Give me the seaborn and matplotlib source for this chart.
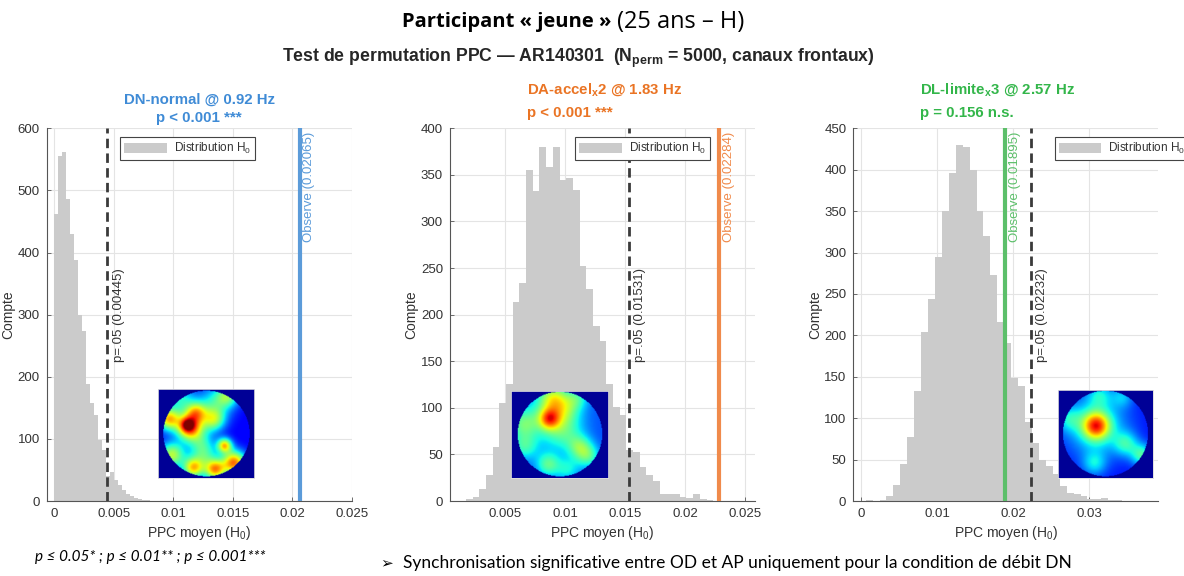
import numpy as np
import pandas as pd
import matplotlib
matplotlib.use("Agg")
import matplotlib.pyplot as plt
import matplotlib.transforms as mtransforms
from matplotlib.patches import Patch
from matplotlib.ticker import FuncFormatter, MultipleLocator
import seaborn as sns

# ------------------------------------------------------------------ data
cond_names = ["DN-normal", r"DA-accel$_\mathbf{x}$2", r"DL-limite$_\mathbf{x}$3"]
cond_freqs = ["0.92", "1.83", "2.57"]
p_texts = ["p < 0.001 ***", "p < 0.001 ***", "p = 0.156 n.s."]
observed = [0.02065, 0.02284, 0.01895]
thresholds = [0.00445, 0.01531, 0.02232]

bin_start = [0.0, 0.00175, 0.00062]
bin_width = [0.000335, 0.000556, 0.00091]

counts_dn = [462, 555, 562, 486, 430, 388, 300, 273, 188, 158, 138, 98, 82,
             40, 47, 34, 26, 18, 12, 8, 5, 3, 2, 1]
counts_da = [2, 4, 13, 28, 58, 105, 126, 214, 234, 355, 333, 380, 358, 380,
             345, 347, 334, 252, 228, 188, 172, 126, 101, 92, 55, 53, 36, 28,
             21, 8, 8, 7, 4, 3, 7, 2, 1]
counts_dl = [1, 0, 1, 6, 19, 45, 77, 133, 204, 244, 295, 350, 396, 430, 428,
             400, 350, 320, 273, 216, 191, 149, 139, 95, 70, 50, 42, 33, 18,
             10, 8, 6, 2, 3, 4, 1, 1]
all_counts = [counts_dn, counts_da, counts_dl]

x_limits = [(-0.00064, 0.025), (0.00042, 0.0258), (-0.001, 0.039)]
x_tick_step = [0.005, 0.005, 0.01]
y_limits = [600, 400, 450]
y_tick_step = [100, 50, 50]

# topographic inset maps: blobs (u, v, amplitude, sigma) + base level
head_base = [0.12, 0.20, 0.14]
head_u = [[0.30, 0.28, 0.06, 0.38, 0.58, 0.60, 0.20, 0.75, 0.43, 0.71, 0.82, 0.60, 0.35, 0.10, 0.48],
          [0.375, 0.40, 0.41, 0.55, 0.06, 0.08, 0.55, 0.71, 0.73, 0.83, 0.36, 0.59],
          [0.39, 0.39, 0.43, 0.70, 0.07, 0.74, 0.93, 0.37]]
head_v = [[0.42, 0.40, 0.33, 0.25, 0.34, 0.14, 0.10, 0.06, 0.60, 0.64, 0.84, 0.92, 0.90, 0.75, 0.75],
          [0.32, 0.30, 0.07, 0.18, 0.38, 0.65, 0.49, 0.07, 0.65, 0.76, 0.86, 0.92],
          [0.41, 0.41, 0.05, 0.07, 0.33, 0.62, 0.75, 0.85]]
head_amp = [[0.72, 0.25, 0.55, 0.42, 0.38, 0.25, 0.25, 0.30, 0.22, 0.55, 0.66, 0.60, 0.55, 0.45, 0.22],
            [0.40, 0.22, 0.24, 0.20, 0.22, 0.20, 0.14, 0.14, 0.22, 0.22, 0.25, 0.16],
            [0.52, 0.25, 0.16, 0.14, 0.16, 0.22, 0.28, 0.18]]
head_sig = [[0.21, 0.10, 0.18, 0.17, 0.19, 0.28, 0.22, 0.18, 0.22, 0.12, 0.19, 0.17, 0.17, 0.21, 0.20],
            [0.17, 0.45, 0.22, 0.25, 0.25, 0.22, 0.30, 0.18, 0.20, 0.20, 0.20, 0.20],
            [0.22, 0.50, 0.20, 0.18, 0.20, 0.20, 0.18, 0.20]]

# ------------------------------------------------------------------ style
sns.set_theme(style="white")
plt.rcParams["font.family"] = ["Liberation Sans", "DejaVu Sans"]
plt.rcParams["mathtext.fontset"] = "custom"
plt.rcParams["mathtext.rm"] = "Liberation Sans"
plt.rcParams["mathtext.it"] = "Liberation Sans:italic"
plt.rcParams["mathtext.bf"] = "Liberation Sans:bold"

title_colors = ["#3f8bd6", "#ea7424", "#33b64a"]
line_colors = ["#5b9bd9", "#f08a4b", "#5cbf6a"]
bar_color = "#cbcbcb"
txt_color = "#333333"

W, H = 1184, 576
fig = plt.figure(figsize=(W / 100, H / 100), dpi=100)


def px_rect(x0, y0, x1, y1):
    return [x0 / W, 1 - y1 / H, (x1 - x0) / W, (y1 - y0) / H]


axes_px = [(46.7, 128.3, 351.7, 501), (450, 128.3, 755, 501), (853.3, 128.3, 1158, 501)]
inset_px = [(157.7, 389.3, 254, 478.3), (511, 391, 608.3, 478.3), (1058.3, 390, 1153.3, 478.3)]
legend_anchor = [0.240, 0.41, 0.661]
title_x = [("center", None), ("left", 527), ("left", 920)]
title_y = [(100, 118), (90, 113), (90, 113)]

fmt = FuncFormatter(lambda v, pos: "0" if abs(v) < 1e-12 else f"{v:g}")

for i in range(3):
    ax = fig.add_axes(px_rect(*axes_px[i]))
    counts = np.array(all_counts[i], dtype=float)
    edges = bin_start[i] + bin_width[i] * np.arange(len(counts) + 1)
    centers = (edges[:-1] + edges[1:]) / 2
    df = pd.DataFrame({"ppc": centers, "n": counts})
    sns.histplot(data=df, x="ppc", weights="n", bins=[float(e) for e in edges], ax=ax,
                 color=bar_color, alpha=1.0, linewidth=0, edgecolor=bar_color,
                 zorder=2)

    ax.set_xlim(*x_limits[i])
    ax.set_ylim(0, y_limits[i])
    ax.xaxis.set_major_locator(MultipleLocator(x_tick_step[i]))
    ax.yaxis.set_major_locator(MultipleLocator(y_tick_step[i]))
    ax.xaxis.set_major_formatter(fmt)
    ax.grid(True, color="#e4e4e4", linewidth=0.8, zorder=0)
    ax.set_axisbelow(True)
    for s in ["top", "right"]:
        ax.spines[s].set_visible(False)
    for s in ["left", "bottom"]:
        ax.spines[s].set_color("#555555")
        ax.spines[s].set_linewidth(0.8)
    ax.tick_params(direction="in", length=3, width=0.6, colors="#555555",
                   labelcolor=txt_color, labelsize=9.5, pad=5,
                   bottom=True, left=True)
    ax.set_xlabel("PPC moyen (H$_0$)", fontsize=10, color=txt_color, labelpad=3)
    ax.set_ylabel("Compte", fontsize=10, color=txt_color, labelpad=1.5)

    # threshold (dashed) and observed (solid) lines
    ax.axvline(thresholds[i], color="#3a3a3a", linewidth=2.0,
               dashes=(3.4, 1.9), zorder=4)
    ax.axvline(observed[i], color=line_colors[i], linewidth=3.0, zorder=4)

    blend = mtransforms.blended_transform_factory(ax.transData, ax.transAxes)
    off_thr = mtransforms.offset_copy(blend, fig=fig, x=4, y=0, units="points")
    off_obs = mtransforms.offset_copy(blend, fig=fig, x=2.5, y=0, units="points")
    ax.text(thresholds[i], 0.373, f"p=.05 ({thresholds[i]:.5f})", rotation=90,
            ha="left", va="bottom", fontsize=9.5, color=txt_color,
            transform=off_thr, zorder=5)
    ax.text(observed[i], 0.99, f"Observe ({observed[i]:.5f})", rotation=90,
            ha="left", va="top", fontsize=9.5, color=line_colors[i],
            transform=off_obs, zorder=5)

    leg = ax.legend(handles=[Patch(facecolor=bar_color, edgecolor="none",
                                   label="Distribution H$_0$")],
                    loc="upper left", bbox_to_anchor=(legend_anchor[i], 0.977),
                    fontsize=8.5, frameon=True, fancybox=False,
                    framealpha=1, edgecolor="#444444", handlelength=3.6,
                    handleheight=0.9, borderpad=0.35, handletextpad=0.6,
                    borderaxespad=0)
    leg.get_frame().set_linewidth(0.8)
    for t in leg.get_texts():
        t.set_color(txt_color)

    # panel title (two lines)
    ha, xp = title_x[i]
    if xp is None:
        xp = (axes_px[i][0] + axes_px[i][2]) / 2
    fig.text(xp / W, 1 - title_y[i][0] / H, f"{cond_names[i]} @ {cond_freqs[i]} Hz",
             ha=ha, va="center", fontsize=10.8, fontweight="bold",
             color=title_colors[i])
    fig.text(xp / W, 1 - title_y[i][1] / H, p_texts[i],
             ha=ha, va="center", fontsize=10.8, fontweight="bold",
             color=title_colors[i])

    # topographic inset
    iax = fig.add_axes(px_rect(*inset_px[i]))
    x0, y0, x1, y1 = inset_px[i]
    aspect = (x1 - x0) / (y1 - y0)
    nx, ny = 130, int(130 / aspect)
    gx = np.linspace(-aspect, aspect, nx) / 0.97
    gy = np.linspace(-1, 1, ny) / 0.97
    GX, GY = np.meshgrid(gx, gy)
    field = np.full_like(GX, head_base[i])
    for u, v, a, s in zip(head_u[i], head_v[i], head_amp[i], head_sig[i]):
        bx, by = 2 * u - 1, 2 * v - 1
        field += a * np.exp(-((GX - bx) ** 2 + (GY - by) ** 2) / (2 * s ** 2))
    field = np.clip(field, 0, 1)
    field[GX ** 2 + GY ** 2 > 1] = 0.02
    iax.imshow(field, cmap="jet", vmin=0, vmax=1, aspect="auto",
               interpolation="bilinear", origin="upper")
    iax.set_xticks([])
    iax.set_yticks([])
    for s in iax.spines.values():
        s.set_color("#dddddd")
        s.set_linewidth(0.6)

# ------------------------------------------------------------------ titles
fig.text(611 / W, 1 - 22 / H, "Participant « jeune »", ha="right", va="center",
         fontsize=14.5, fontweight="bold", family=["Open Sans", "DejaVu Sans"], color="black")
fig.text(617 / W, 1 - 22 / H, "(25 ans – H)", ha="left", va="center",
         fontsize=17, family=["Open Sans", "DejaVu Sans"], color="black")
fig.text(578 / W, 1 - 58 / H,
         r"Test de permutation PPC — AR140301  (N$_\mathbf{perm}$ = 5000, canaux frontaux)",
         ha="center", va="center", fontsize=12.7, fontweight="bold", color="#262626")

fig.text(35 / W, 1 - 557 / H, "p ≤ 0.05* ; p ≤ 0.01** ; p ≤ 0.001***",
         ha="left", va="center", fontsize=11, style="italic",
         family=["Lato", "DejaVu Sans"], color="black")
fig.text(380 / W, 1 - 563 / H, "➢", ha="left", va="center", fontsize=11,
         family=["DejaVu Sans"], color="black")
fig.text(403 / W, 1 - 563 / H,
         "Synchronisation significative entre OD et AP uniquement pour la condition de débit DN",
         ha="left", va="center", fontsize=12.5, family=["Lato", "DejaVu Sans"], color="black")

fig.savefig("out.png", dpi=100)
